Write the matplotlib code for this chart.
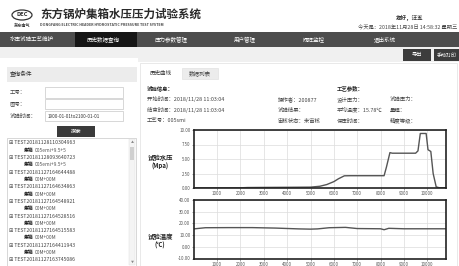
import matplotlib
matplotlib.use("Agg")
import matplotlib.pyplot as plt
from matplotlib.patches import Rectangle, Ellipse

plt.rcParams['font.family'] = ['Noto Sans CJK SC', 'DejaVu Sans']

# ---------------- data ----------------
press_x = [0, 1000, 2000, 2300, 3000, 4000, 5000, 5400, 5700, 6000, 6200, 6450, 6700,
           8150, 8250, 8400, 8500, 9500, 9600, 9700, 9950, 10030, 10150, 10250, 10380, 10500, 10800]
press_y = [0.02, 0.02, 0.03, 0.08, 0.1, 0.12, 0.15, 0.3, 0.6, 1.1, 1.6, 2.1, 2.12,
           2.12, 3.6, 6.1, 6.0, 6.0, 6.4, 9.4, 9.4, 6.6, 6.3, 2.5, 0.2, 0.05, 0.05]
temp_x = [0, 500, 1500, 2500, 3500, 4500, 5000, 5300, 5800, 6500, 7000, 8000, 8150, 8350, 9000, 10800]
temp_y = [15.3, 16.3, 16.4, 16.4, 16.0, 15.3, 15.1, 15.3, 16.3, 16.6, 15.6, 15.4, 14.6, 15.8, 15.4, 15.4]
x_ticks = [1000, 2000, 3000, 4000, 5000, 6000, 7000, 8000, 9000, 10000]
p_ticks = [0, 2.5, 5.0, 7.5, 10.0]
t_ticks = [-10, 0, 10, 20, 30, 40]

nav_items = ["水压试验工艺维护", "历史数据查询", "压力参数管理", "用户管理", "阀阵监控", "退出系统"]
nav_x = [32, 103, 171, 245, 314, 385]
list_ids = ["TEST20181128110304963", "TEST20181128093640723", "TEST20181127164644488",
            "TEST20181127164634863", "TEST20181127164548921", "TEST20181127164528516",
            "TEST20181127164515583", "TEST20181127164411943", "TEST20181127163745086"]
list_subs = ["005emi+9.5+5", "005emi+9.5+5", "00M+00M", "00M+00M", "00M+00M",
             "00M+00M", "00M+00M", "00M+00M"]

W, H = 460, 266
fig = plt.figure(figsize=(W / 100, H / 100), dpi=100)
fig.patch.set_facecolor('white')
bg = fig.add_axes([0, 0, 1, 1])
bg.set_xlim(0, W)
bg.set_ylim(H, 0)
bg.axis('off')

def rect(x0, y0, x1, y1, fc, ec='none', lw=0.5, z=1):
    bg.add_patch(Rectangle((x0, y0), x1 - x0, y1 - y0, facecolor=fc, edgecolor=ec, lw=lw, zorder=z))

def txt(x, y, s, size=3.9, color='#444444', ha='left', weight='normal', z=3):
    bg.text(x, y, s, fontsize=size, color=color, ha=ha, va='center', fontweight=weight, zorder=z)

# ---------------- header ----------------
bg.add_patch(Ellipse((22, 15), 20, 10, facecolor='white', edgecolor='#333333', lw=0.9, zorder=2))
txt(22, 15, "DEC", size=4.2, color='#333333', ha='center', weight='bold')
txt(22, 25, "东方电气", size=3.0, color='#333333', ha='center', weight='bold')
txt(40, 14.5, "东方锅炉集箱水压压力试验系统", size=8.3, color='#2a2a2a', weight='bold')
txt(40, 24.5, "DONGFANG ELECTRIC HEADER HYDROSTATIC PRESSURE TEST SYSTEM", size=2.55,
    color='#444444', weight='bold')
txt(423, 18, "您好，汪五", size=4.0, color='#333333', ha='right', weight='bold')
txt(457, 27.5, "今天是：2018年11月28日 14:58:32 星期三", size=3.8, color='#444444', ha='right')

# nav bar
rect(0, 32, W, 47, '#4d4d4d')
rect(75, 32, 137, 47, '#161616', z=1.5)
for s, x in zip(nav_items, nav_x):
    txt(x, 39.5, s, size=4.0, color='white', ha='center')

# band under nav
rect(0, 47, W, 62, '#f0f0f0')
rect(0, 58, 138, 62, 'white', z=1.2)
rect(403, 49, 431, 61, '#3c3c3c', z=2)
rect(434, 49, 459, 61, '#3c3c3c', z=2)
txt(417, 55, "导出", size=3.8, color='white', ha='center')
txt(446.5, 55, "手动打印", size=3.6, color='white', ha='center')

# ---------------- left panel ----------------
rect(7, 67, 137, 82, '#ececec')
txt(10, 74.5, "查询条件", size=4.1, color='#333333')
txt(10, 92, "工号：", size=3.9)
txt(10, 103.5, "图号：", size=3.9)
txt(10, 116, "试验时间：", size=3.9)
for y0, y1 in [(87, 97.5), (99, 109), (111, 121)]:
    rect(45, y0, 123, y1, 'white', ec='#c8c8c8', lw=0.5)
txt(48, 116, "1900-01-01to2100-01-01", size=3.3, color='#333333')
rect(57, 126, 95, 136.5, '#3a3a3a')
txt(76, 131.3, "搜索", size=3.8, color='white', ha='center')

rect(7, 138, 136, 266, 'white', ec='#c8c8c8', lw=0.5)
rect(129, 139, 135.5, 265, '#f4f4f4', ec='#dddddd', lw=0.3, z=1.5)
rect(130, 147, 134.5, 160, '#cfcfcf', z=1.6)
txt(132.3, 142.5, "▲", size=2.2, color='#888888', ha='center')
txt(132.3, 261.5, "▼", size=2.2, color='#888888', ha='center')

ly = 143.0
step = 7.3
for i, tid in enumerate(list_ids):
    txt(9, ly, "⊞ " + tid, size=3.7, color='#444444')
    ly += step
    if i < len(list_subs):
        bg.text(24, ly, "集箱", fontsize=3.5, color='#222222', va='center', fontweight='bold', zorder=3)
        txt(34.5, ly, list_subs[i], size=3.5, color='#555555')
        ly += step

# ---------------- right panel ----------------
rect(140, 63, 457.5, 266, 'none', ec='#e0e0e0', lw=0.5, z=0.5)
txt(150, 73, "历史曲线", size=4.0, color='#333333')
rect(182, 67.5, 218, 78.5, '#ececec', ec='#dddddd', lw=0.4)
txt(200, 73, "数据列表", size=4.0, color='#444444', ha='center')

txt(147, 88, "试验信息：", size=3.9, color='#222222', weight='bold')
txt(147, 99, "开始时间：2018/11/28 11:03:04", size=3.9)
txt(147, 110, "结束时间：2018/11/28 11:03:04", size=3.9)
txt(147, 121, "工艺号：005smi", size=3.9)
txt(278, 99, "操作者：200877", size=3.9)
txt(278, 110, "试验结果：", size=3.9)
txt(278, 121, "审核状态：未审核", size=3.9)
txt(337, 88, "工艺参数：", size=3.9, color='#222222', weight='bold')
txt(337, 99, "设计压力：", size=3.9)
txt(337, 110, "平均温度：15.78℃", size=3.9)
txt(337, 121, "保压时间：", size=3.9)
txt(390, 99, "试验压力：", size=3.9)
txt(390, 110, "量程：", size=3.9)
txt(390, 121, "精度等级：", size=3.9)

txt(160, 157.5, "试验水压", size=4.6, color='#222222', ha='center', weight='bold')
txt(160, 166.5, "(Mpa)", size=4.4, color='#222222', ha='center', weight='bold')
txt(160, 236.5, "试验温度", size=4.6, color='#222222', ha='center', weight='bold')
txt(160, 245, "(℃)", size=4.4, color='#222222', ha='center', weight='bold')

# ---------------- charts ----------------
def make_ax(x0, y0, x1, y1):
    return fig.add_axes([x0 / W, (H - y1) / H, (x1 - x0) / W, (y1 - y0) / H])

def style(ax, yt, ylim):
    ax.set_xlim(0, 10800)
    ax.set_ylim(*ylim)
    ax.set_xticks(x_ticks)
    ax.set_xticklabels([str(v) for v in x_ticks])
    ax.set_yticks(yt)
    ax.set_yticklabels(["%.2f" % v for v in yt])
    ax.grid(True, color='#dcdcdc', lw=0.5)
    ax.set_axisbelow(True)
    ax.tick_params(labelsize=3.2, colors='#555555', length=1.2, width=0.4, pad=1.2)
    for sp in ax.spines.values():
        sp.set_linewidth(1.2)
        sp.set_color('#222222')

ax1 = make_ax(193.7, 130, 446, 188)
ax1.plot(press_x, press_y, color='#555555', lw=1.0)
style(ax1, p_ticks, (0, 10))

ax2 = make_ax(193.7, 200, 446, 258.5)
ax2.plot(temp_x, temp_y, color='#555555', lw=1.0)
style(ax2, t_ticks, (-10, 40))

fig.savefig("out.png", dpi=100, facecolor='white')
